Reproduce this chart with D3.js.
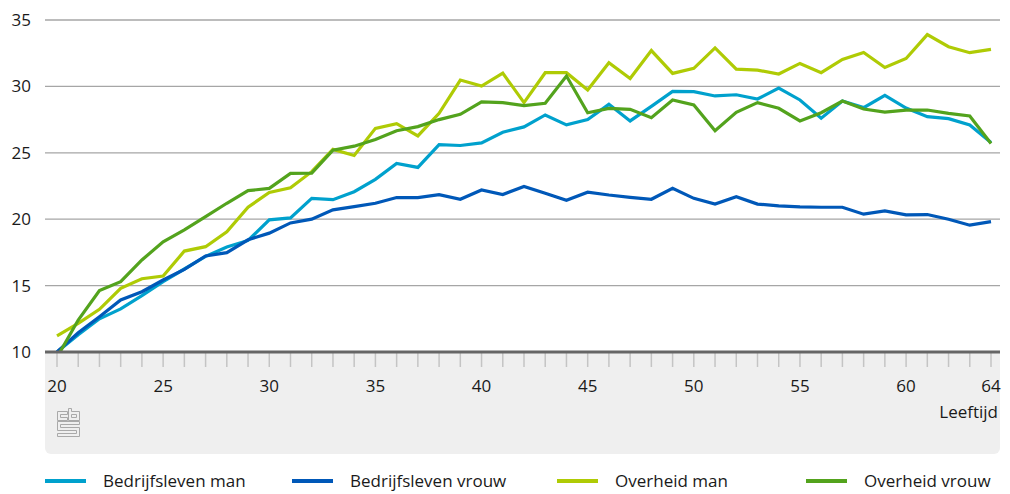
<!DOCTYPE html>
<html>
<head>
<meta charset="utf-8">
<script src="https://cdn.jsdelivr.net/npm/d3@7"></script>
<style>
  html, body { margin: 0; padding: 0; background: #fff; }
  svg { display: block; font-family: "Open Sans", sans-serif; }
</style>
</head>
<body>
<svg id="chart" width="1010" height="494"></svg>
<script>
const ages = d3.range(20, 65);
const yTicks = [10, 15, 20, 25, 30, 35];
const xTickLabels = [20, 25, 30, 35, 40, 45, 50, 55, 60, 64];
const seriesNames = ["Bedrijfsleven man", "Bedrijfsleven vrouw", "Overheid man", "Overheid vrouw"];
const seriesColors = ["#00a1cd", "#0058b8", "#afcb05", "#53a31d"];

const bedrijfslevenMan = [10.0, 11.3, 12.5, 13.25, 14.25, 15.3, 16.25, 17.2, 17.9, 18.4,
  19.95, 20.1, 21.57, 21.47, 22.07, 23.0, 24.2, 23.9, 25.62, 25.55,
  25.75, 26.55, 26.95, 27.85, 27.1, 27.5, 28.65, 27.4, 28.5, 29.62,
  29.6, 29.28, 29.37, 29.05, 29.87, 28.98, 27.6, 28.9, 28.4, 29.33,
  28.37, 27.72, 27.57, 27.1, 25.77];
const bedrijfslevenVrouw = [10.0, 11.45, 12.66, 13.92, 14.54, 15.42, 16.22, 17.23, 17.48, 18.45,
  18.95, 19.72, 20.0, 20.7, 20.95, 21.2, 21.63, 21.63, 21.85, 21.5,
  22.2, 21.86, 22.47, 21.95, 21.42, 22.03, 21.82, 21.65, 21.5, 22.33,
  21.57, 21.14, 21.7, 21.14, 21.0, 20.93, 20.9, 20.9, 20.38, 20.62,
  20.33, 20.35, 20.0, 19.55, 19.82];
const overheidMan = [11.22, 12.16, 13.21, 14.8, 15.52, 15.72, 17.6, 17.93, 19.06, 20.9,
  22.02, 22.37, 23.58, 25.26, 24.8, 26.84, 27.2, 26.27, 27.97, 30.48,
  30.03, 31.0, 28.78, 31.03, 31.03, 29.73, 31.78, 30.6, 32.7, 30.98,
  31.36, 32.9, 31.3, 31.23, 30.93, 31.73, 31.03, 32.03, 32.56, 31.42,
  32.1, 33.9, 32.99, 32.54, 32.79];
const overheidVrouw = [9.6, 12.41, 14.62, 15.3, 16.93, 18.3, 19.19, 20.19, 21.2, 22.15,
  22.32, 23.45, 23.47, 25.2, 25.5, 26.0, 26.66, 26.97, 27.5, 27.9,
  28.83, 28.78, 28.55, 28.73, 30.78, 28.02, 28.35, 28.27, 27.64, 28.98,
  28.6, 26.66, 28.05, 28.78, 28.35, 27.4, 28.02, 28.9, 28.3, 28.07,
  28.22, 28.22, 27.97, 27.77, 25.7];
const seriesValues = [bedrijfslevenMan, bedrijfslevenVrouw, overheidMan, overheidVrouw];

const svg = d3.select("#chart");
const x = d3.scaleLinear().domain([20, 64]).range([57, 991]);
const y = d3.scaleLinear().domain([10, 35]).range([352, 20]);
const left = 45, right = 1000;

// gray band under the axis
svg.append("path")
  .attr("d", (() => {
    const p = d3.path(); const r = 6, t = 352, b = 454;
    p.moveTo(left, t); p.lineTo(right, t); p.lineTo(right, b - r);
    p.arcTo(right, b, right - r, b, r); p.lineTo(left + r, b);
    p.arcTo(left, b, left, b - r, r); p.closePath(); return p.toString();
  })())
  .attr("fill", "#efefef");

// gridlines
svg.append("g").selectAll("line").data(yTicks.filter(d => d > 10)).join("line")
  .attr("x1", left).attr("x2", right)
  .attr("y1", d => y(d)).attr("y2", d => y(d))
  .attr("stroke", "#a6a6a6").attr("stroke-width", 1.3);

// y labels
svg.append("g").selectAll("text").data(yTicks).join("text")
  .attr("x", 31).attr("y", d => y(d)).attr("dy", "0.35em")
  .attr("text-anchor", "end").attr("font-size", 17).attr("fill", "#1a1a1a")
  .text(d => d);

// x tick marks
svg.append("g").selectAll("line").data(ages).join("line")
  .attr("x1", d => x(d)).attr("x2", d => x(d))
  .attr("y1", 353).attr("y2", 367)
  .attr("stroke", "#c4c4c4").attr("stroke-width", 1.5);

// x labels
svg.append("g").selectAll("text").data(xTickLabels).join("text")
  .attr("x", d => x(d)).attr("y", 392)
  .attr("text-anchor", "middle").attr("font-size", 17).attr("fill", "#1a1a1a")
  .text(d => d);

svg.append("text").attr("x", 998).attr("y", 418).attr("text-anchor", "end")
  .attr("font-size", 17).attr("fill", "#1a1a1a").text("Leeftijd");

// clip
svg.append("clipPath").attr("id", "plotclip").append("rect")
  .attr("x", left).attr("y", 0).attr("width", right - left).attr("height", 352);

const line = d3.line().x((d, i) => x(ages[i])).y(d => y(d));
svg.append("g").attr("clip-path", "url(#plotclip)")
  .selectAll("path").data(seriesValues).join("path")
  .attr("d", d => line(d))
  .attr("fill", "none")
  .attr("stroke", (d, i) => seriesColors[i])
  .attr("stroke-width", 3.2)
  .attr("stroke-linejoin", "miter");

// axis line at 10
svg.append("line").attr("x1", left).attr("x2", right)
  .attr("y1", y(10)).attr("y2", y(10))
  .attr("stroke", "#666").attr("stroke-width", 3.2);

// CBS logo
const logo = svg.append("g").attr("fill", "none").attr("stroke", "#a9a9a9").attr("stroke-width", 1);
logo.append("path").attr("d", "M57.5,411.5 H67.5 V414.5 H60.5 V417.5 H67.5 V420.5 H57.5 Z");
logo.append("path").attr("d", "M68.5,408.5 H71.5 V411.5 H79.5 V420.5 H68.5 Z M71.5,414.5 H76.5 V417.5 H71.5 Z");
logo.append("path").attr("d", "M57.5,421.5 H79.5 V424.5 H60.5 V427.5 H79.5 V436.5 H57.5 V433.5 H76.5 V430.5 H57.5 Z");

// legend
const legX = [45, 292, 557, 806];
const leg = svg.append("g").selectAll("g").data(seriesNames).join("g")
  .attr("transform", (d, i) => `translate(${legX[i]},481)`);
leg.append("line").attr("x1", 0).attr("x2", 41).attr("y1", 0).attr("y2", 0)
  .attr("stroke", (d, i) => seriesColors[i]).attr("stroke-width", 4);
leg.append("text").attr("x", 58).attr("y", 0).attr("dy", "0.35em")
  .attr("font-size", 17).attr("fill", "#1a1a1a").text(d => d);
</script>
</body>
</html>
